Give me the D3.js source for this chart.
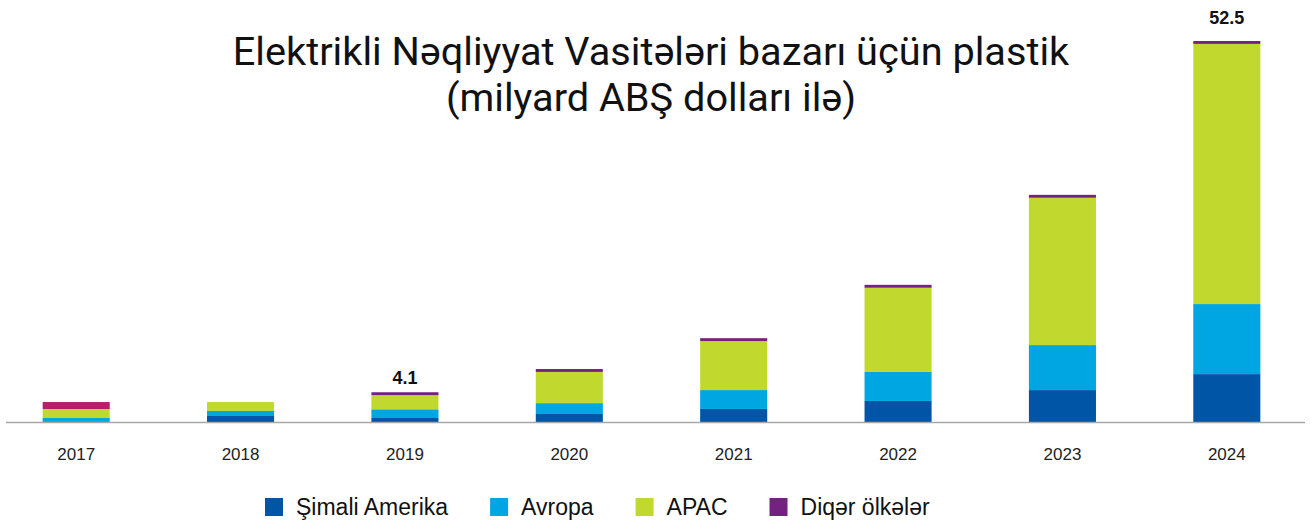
<!DOCTYPE html>
<html>
<meta charset="utf-8">
<head>
  <script src="https://d3js.org/d3.v7.min.js"></script>
  <style>
    body { margin: 0; background: #fff; }
    svg { display: block; }
    .title { font-family: Roboto, sans-serif; font-size: 39.7px; fill: #111; }
    .year { font-family: "Liberation Sans", Arial, sans-serif; font-size: 17px; fill: #222; }
    .total { font-family: "Liberation Sans", Arial, sans-serif; font-size: 18px; font-weight: bold; fill: #111; }
    .leg { font-family: "Liberation Sans", Arial, sans-serif; font-size: 23px; fill: #111; }
  </style>
</head>
<body>
<script>
  // data (billion USD)
  var years = ["2017", "2018", "2019", "2020", "2021", "2022", "2023", "2024"];
  var northAmerica = [0, 0.83, 0.55, 1.1, 1.8, 2.9, 4.4, 6.6];
  var europe = [0.55, 0.69, 1.2, 1.5, 2.6, 4.0, 6.2, 9.65];
  var apac = [1.24, 1.24, 1.95, 4.3, 6.75, 11.6, 20.3, 35.85];
  var other = [0.96, 0, 0.4, 0.4, 0.4, 0.4, 0.4, 0.4];
  var seriesNames = ["Şimali Amerika", "Avropa", "APAC", "Diqər ölkələr"];
  var seriesColors = ["#0055a6", "#00a6e2", "#c1d82f", "#742181"];
  var labelled = { "2019": "4.1", "2024": "52.5" };

  var W = 1312, H = 526;
  var svg = d3.select("body").append("svg").attr("width", W).attr("height", H);

  var rows = years.map(function(y, i) {
    return { year: y, na: northAmerica[i], eu: europe[i], apac: apac[i], other: other[i] };
  });
  var keys = ["na", "eu", "apac", "other"];
  var stacked = d3.stack().keys(keys)(rows);

  var x = d3.scaleBand().domain(years).range([-6, 1309]).paddingInner(0.592).paddingOuter(0.296);
  var y = d3.scaleLinear().domain([0, 52.5]).range([422, 41]);

  // title
  var title = svg.append("text").attr("class", "title").attr("text-anchor", "middle");
  title.append("tspan").attr("x", 651).attr("y", 65).text("Elektrikli Nəqliyyat Vasitələri bazarı üçün plastik");
  title.append("tspan").attr("x", 651).attr("y", 111).text("(milyard ABŞ dolları ilə)");

  // bars
  svg.append("g").selectAll("g")
    .data(stacked)
    .enter().append("g")
    .each(function(layer, li) {
      d3.select(this).selectAll("rect")
        .data(layer)
        .enter().append("rect")
        .attr("x", function(d) { return x(d.data.year); })
        .attr("width", x.bandwidth())
        .attr("y", function(d) { return y(d[1]); })
        .attr("height", function(d) { return y(d[0]) - y(d[1]); })
        .attr("fill", function(d) {
          // 2017 "other" segment is drawn in magenta in the original
          if (li == 3 && d.data.year == "2017") return "#b71e6b";
          return seriesColors[li];
        });
    });

  // baseline
  svg.append("line")
    .attr("x1", 6).attr("x2", 1305)
    .attr("y1", y(0) + 0.5).attr("y2", y(0) + 0.5)
    .attr("stroke", "#a8a8a8").attr("stroke-width", 1.5);

  // year labels
  svg.append("g").selectAll("text")
    .data(years)
    .enter().append("text")
    .attr("class", "year")
    .attr("text-anchor", "middle")
    .attr("x", function(d) { return x(d) + x.bandwidth() / 2; })
    .attr("y", 460)
    .text(function(d) { return d; });

  // totals (the tall one sits higher above its bar)
  var topLayer = stacked[stacked.length - 1];
  svg.append("g").selectAll("text")
    .data(topLayer.filter(function(d) { return labelled[d.data.year]; }))
    .enter().append("text")
    .attr("class", "total")
    .attr("text-anchor", "middle")
    .attr("x", function(d) { return x(d.data.year) + x.bandwidth() / 2; })
    .attr("y", function(d) { return y(d[1]) - (d[1] > 50 ? 17 : 8); })
    .text(function(d) { return labelled[d.data.year]; });

  // legend
  var leg = svg.append("g");
  var lx = 265;
  seriesNames.forEach(function(name, i) {
    leg.append("rect").attr("x", lx).attr("y", 498).attr("width", 18).attr("height", 18)
      .attr("fill", seriesColors[i]);
    var t = leg.append("text").attr("class", "leg").attr("x", lx + 31).attr("y", 515).text(name);
    lx = lx + 31 + t.node().getComputedTextLength() + 42;
  });
</script>
</body>
</html>
